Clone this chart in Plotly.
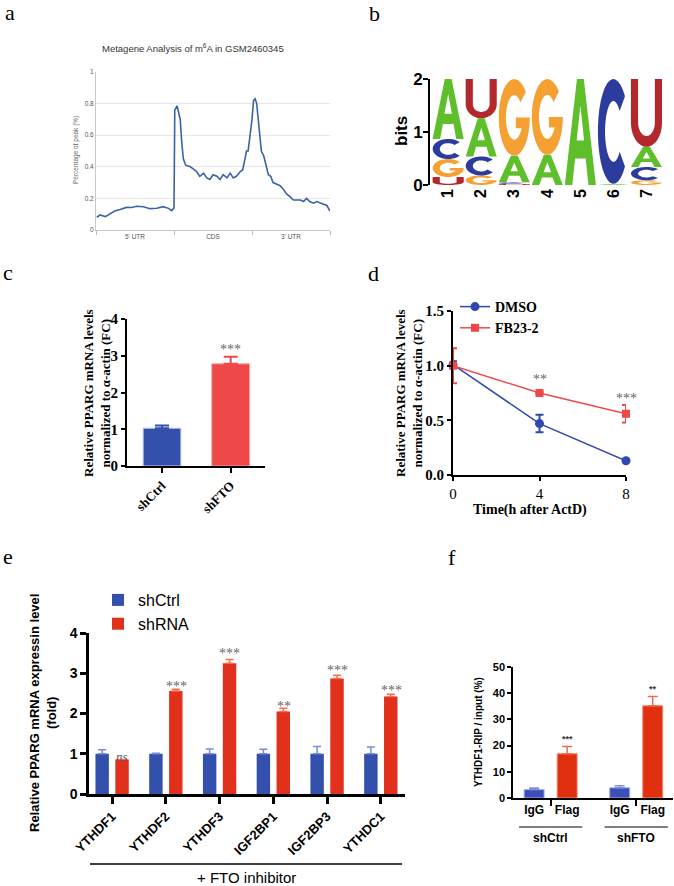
import numpy as np
import plotly.graph_objects as go

W, H = 674, 886


def px(x):
    return x / W


def py(y):
    return 1 - y / H


SERIF = "Liberation Serif"
SANS = "Liberation Sans"

# ---- a: metagene profile
meta_pos = [0.01, 0.05, 0.12, 0.18, 0.24, 0.31, 0.39, 0.46, 0.52, 0.61, 0.69, 0.78,
            0.86, 0.93, 0.97, 1.00, 1.01, 1.04, 1.08, 1.10, 1.12, 1.15, 1.21, 1.25,
            1.29, 1.33, 1.38, 1.42, 1.46, 1.50, 1.55, 1.59, 1.63, 1.68, 1.72, 1.76,
            1.80, 1.85, 1.88, 1.91, 1.93, 1.95, 1.97, 2.00, 2.02, 2.04, 2.06, 2.08,
            2.10, 2.12, 2.15, 2.19, 2.21, 2.24, 2.27, 2.32, 2.36, 2.40, 2.44, 2.49,
            2.53, 2.57, 2.62, 2.66, 2.70, 2.74, 2.79, 2.83, 2.87, 2.91, 2.96, 3.00]
meta_val = [0.08, 0.095, 0.085, 0.105, 0.12, 0.13, 0.143, 0.142, 0.15, 0.147, 0.135, 0.138,
            0.148, 0.137, 0.122, 0.14, 0.76, 0.785, 0.70, 0.55, 0.45, 0.41, 0.40, 0.385,
            0.37, 0.34, 0.36, 0.33, 0.32, 0.35, 0.34, 0.32, 0.35, 0.33, 0.36, 0.33,
            0.34, 0.37, 0.38, 0.45, 0.50, 0.50, 0.58, 0.70, 0.82, 0.83, 0.80, 0.70,
            0.60, 0.50, 0.47, 0.40, 0.35, 0.34, 0.30, 0.29, 0.28, 0.26, 0.23, 0.21,
            0.19, 0.19, 0.19, 0.18, 0.20, 0.18, 0.17, 0.18, 0.17, 0.165, 0.155, 0.12]
meta_regions = ["5' UTR", "CDS", "3' UTR"]

# ---- b: motif logo (bits per letter)
logo_positions = [1, 2, 3, 4, 5, 6, 7]
logo_A = [1.13, 0.72, 0.50, 0.57, 2.00, 0.02, 0.38]
logo_C = [0.38, 0.36, 0.03, 0.00, 0.00, 1.98, 0.25]
logo_G = [0.34, 0.18, 1.45, 1.43, 0.00, 0.00, 0.09]
logo_U = [0.15, 0.74, 0.02, 0.00, 0.00, 0.00, 1.28]

# ---- c
c_groups = ["shCtrl", "shFTO"]
c_vals = [1.03, 2.78]
c_err = [0.07, 0.19]

# ---- d
d_time = [0, 4, 8]
d_dmso = [1.01, 0.47, 0.13]
d_dmso_err = [0.03, 0.08, 0.01]
d_fb = [1.00, 0.75, 0.56]
d_fb_err = [0.16, 0.01, 0.08]
d_stars = ["", "**", "***"]
d_star_y = [0, 0.87, 0.70]

# ---- e
e_genes = ["YTHDF1", "YTHDF2", "YTHDF3", "IGF2BP1", "IGF2BP3", "YTHDC1"]
e_ctrl = [1.0, 1.0, 1.0, 1.0, 1.0, 1.0]
e_ctrl_err = [0.10, 0.01, 0.12, 0.11, 0.18, 0.17]
e_rna = [0.86, 2.56, 3.25, 2.05, 2.87, 2.42]
e_rna_err = [0.0, 0.04, 0.09, 0.08, 0.08, 0.06]
e_stars = ["ns", "***", "***", "**", "***", "***"]
e_star_y = [0.92, 2.66, 3.48, 2.17, 3.08, 2.58]

# ---- f
f_groups = ["shCtrl", "shFTO"]
f_igg = [3.2, 3.9]
f_igg_err = [0.6, 0.8]
f_flag = [16.9, 35.2]
f_flag_err = [2.8, 3.5]
f_stars = ["***", "**"]
f_star_y = [22.5, 41.5]

BLUE = "#3450ad"
RED_C = "#ee4848"
RED_E = "#e1301c"

fig = go.Figure()

# a
fig.add_trace(go.Scatter(x=meta_pos, y=meta_val, mode="lines",
                         line=dict(color="#3a63a6", width=1.6),
                         xaxis="x", yaxis="y", showlegend=False, hoverinfo="skip"))

# b: letters drawn as path shapes scaled to their bit heights


def arc(cx, cy, rx, ry, a0, a1, n=28):
    t = np.radians(np.linspace(a0, a1, n))
    return list(zip(cx + rx * np.cos(t), cy + ry * np.sin(t)))


GLYPHS = {
    "A": [[(0, 0), (0.39, 1), (0.61, 1), (1, 0), (0.76, 0), (0.67, 0.25), (0.33, 0.25), (0.24, 0)],
          [(0.38, 0.42), (0.62, 0.42), (0.5, 0.75)]],
    "C": [arc(0.5, 0.5, 0.5, 0.5, 42, 318) + arc(0.5, 0.5, 0.27, 0.29, 318, 42)],
    "G": [arc(0.5, 0.5, 0.5, 0.5, 42, 360) + [(0.55, 0.5), (0.55, 0.36)]
          + arc(0.5, 0.5, 0.27, 0.29, 331, 42)],
    "U": [[(0, 1), (0.23, 1)] + arc(0.5, 0.36, 0.27, 0.2, 180, 360) + [(0.77, 1), (1, 1)]
          + arc(0.5, 0.36, 0.5, 0.36, 360, 180)],
}
LETTER_COLORS = {"A": "#5fbf2a", "C": "#2b3c9c", "G": "#f5a033", "U": "#b3282c"}

shapes = []
for i, pos in enumerate(logo_positions):
    col = {"A": logo_A[i], "C": logo_C[i], "G": logo_G[i], "U": logo_U[i]}
    base = 0.0
    for letter, h in sorted(col.items(), key=lambda kv: kv[1]):
        if h <= 0:
            continue
        x0, x1 = pos - 0.47, pos + 0.47
        path = ""
        for sub in GLYPHS[letter]:
            pts = [(x0 + u * (x1 - x0), base + v * h) for u, v in sub]
            path += "M" + "L".join(f"{a:.4f},{b:.4f}" for a, b in pts) + "Z"
        shapes.append(dict(type="path", path=path, xref="x2", yref="y2",
                           fillcolor=LETTER_COLORS[letter], line=dict(width=0),
                           fillrule="evenodd", layer="above"))
        base += h

fig.add_trace(go.Scatter(x=logo_positions, y=[0] * 7, mode="markers", opacity=0,
                         xaxis="x2", yaxis="y2", showlegend=False, hoverinfo="skip"))

# c
for i, (g, col) in enumerate(zip(c_groups, [BLUE, RED_C])):
    fig.add_trace(go.Bar(x=[i], y=[c_vals[i]], width=0.55,
                         marker=dict(color=col, line=dict(color="#c8d0f0" if i == 0 else "#f8a0a0", width=1)),
                         error_y=dict(type="data", array=[c_err[i]], arrayminus=[0], symmetric=False,
                                      color=col, thickness=2, width=7),
                         xaxis="x3", yaxis="y3", showlegend=False, hoverinfo="skip"))

# d
fig.add_trace(go.Scatter(x=d_time, y=d_dmso, mode="lines+markers", name="DMSO",
                         line=dict(color="#3047b0", width=1.5),
                         marker=dict(symbol="circle", size=9, color="#3047b0"),
                         error_y=dict(type="data", array=d_dmso_err, color="#3047b0", thickness=2, width=4),
                         xaxis="x4", yaxis="y4", legend="legend", cliponaxis=False))
fig.add_trace(go.Scatter(x=d_time, y=d_fb, mode="lines+markers", name="FB23-2",
                         line=dict(color="#f04848", width=1.5),
                         marker=dict(symbol="square", size=8, color="#f04848"),
                         error_y=dict(type="data", array=d_fb_err, color="#f04848", thickness=2, width=4),
                         xaxis="x4", yaxis="y4", legend="legend", cliponaxis=False))

# e
e_idx = list(range(len(e_genes)))
fig.add_trace(go.Bar(x=e_idx, y=e_ctrl, width=0.25, offset=-0.31, name="shCtrl",
                     marker=dict(color=BLUE, line=dict(width=0)),
                     error_y=dict(type="data", array=e_ctrl_err, arrayminus=[0] * 6, symmetric=False,
                                  color="#7a88d8", thickness=1.5, width=4),
                     xaxis="x5", yaxis="y5", legend="legend2"))
fig.add_trace(go.Bar(x=e_idx, y=e_rna, width=0.25, offset=0.06, name="shRNA",
                     marker=dict(color=RED_E, line=dict(width=0)),
                     error_y=dict(type="data", array=e_rna_err, arrayminus=[0] * 6, symmetric=False,
                                  color="#f07050", thickness=1.5, width=4),
                     xaxis="x5", yaxis="y5", legend="legend2"))

# f
f_idx = [0, 1]
fig.add_trace(go.Bar(x=f_idx, y=f_igg, width=0.234, offset=-0.31,
                     marker=dict(color="#3c4fb8", line=dict(color="#a8b2ea", width=1)),
                     error_y=dict(type="data", array=f_igg_err, arrayminus=[0, 0], symmetric=False,
                                  color="#8090d8", thickness=1.5, width=5),
                     xaxis="x6", yaxis="y6", showlegend=False, hoverinfo="skip"))
fig.add_trace(go.Bar(x=f_idx, y=f_flag, width=0.234, offset=0.076,
                     marker=dict(color="#e0300f", line=dict(color="#f09080", width=1)),
                     error_y=dict(type="data", array=f_flag_err, arrayminus=[0, 0], symmetric=False,
                                  color="#f06a50", thickness=1.5, width=5),
                     xaxis="x6", yaxis="y6", showlegend=False, hoverinfo="skip"))

annotations = []


def note(text, x, y, size, family=SERIF, color="black", angle=0, xref="paper", yref="paper",
         weight="normal", style="normal", xanchor="center", yanchor="middle"):
    annotations.append(dict(text=text, x=x, y=y, xref=xref, yref=yref, showarrow=False,
                            textangle=angle, xanchor=xanchor, yanchor=yanchor,
                            font=dict(family=family, size=size, color=color, weight=weight, style=style)))


# panel letters
for lab, lx, ly in [("a", 10, 12), ("b", 375, 14), ("c", 8, 272), ("d", 374, 273), ("e", 8, 556), ("f", 452, 557)]:
    note(lab, px(lx), py(ly), 22)

# a texts
note("Metagene Analysis of m<sup>6</sup>A in GSM2460345", px(193), py(48), 9.5, SANS, "#333")
note("Percentage of peak (%)", px(76), py(150), 6.5, SANS, "#666", angle=-90)

# b title
note("bits", px(401), py(131), 17, SANS, angle=-90, weight="bold")

# c/d y titles
ytxt = "Relative PPARG mRNA levels<br>normalized to \u03b1-actin (FC)"
note(ytxt, px(97), py(393), 13, SERIF, angle=-90, weight="bold")
note(ytxt, px(409), py(393), 13, SERIF, angle=-90, weight="bold")
note("***", 1, c_vals[1] + c_err[1] + 0.2, 14, SERIF, "#666", xref="x3", yref="y3")
note("Time(h after ActD)", px(530), py(510), 14, SERIF, weight="bold")
for t, s, sy in zip(d_time, d_stars, d_star_y):
    if s:
        note(s, t, sy, 14, SERIF, "#666", xref="x4", yref="y4")

# e texts
note("Relative PPARG mRNA expressin level<br>(fold)", px(43), py(713), 13, SANS, angle=-90, weight="bold")
for i, s, sy in zip(e_idx, e_stars, e_star_y):
    if s == "ns":
        note(s, i + 0.19, sy, 13, SERIF, "#555", xref="x5", yref="y5", style="italic")
    else:
        note(s, i + 0.19, sy, 14, SERIF, "#666", xref="x5", yref="y5")
note("+ FTO inhibitor", px(246), py(877), 15, SANS)
shapes.append(dict(type="line", xref="paper", yref="paper", x0=px(90), x1=px(402), y0=py(864), y1=py(864),
                   line=dict(color="black", width=1.5)))

# f texts
note("YTHDF1-RIP / input (%)", px(478), py(732), 10, SANS, angle=-90, weight="bold")
for i, s, sy in zip(f_idx, f_stars, f_star_y):
    note(s, i + 0.193, sy, 9, SANS, "#333", xref="x6", yref="y6", weight="bold")
for i, g in zip(f_idx, f_groups):
    note(g, i, py(838), 12, SANS, xref="x6", weight="bold")
    shapes.append(dict(type="line", xref="x6", yref="paper", x0=i - 0.37, x1=i + 0.37, y0=py(827), y1=py(827),
                       line=dict(color="black", width=1)))

f_tickvals = [g + o for g in f_idx for o in (-0.193, 0.193)]


def ax(**kw):
    base = dict(showgrid=False, zeroline=False, automargin=False, showline=True,
                linecolor="black", tickcolor="black")
    base.update(kw)
    return base


serif_tick = dict(family=SERIF, size=15, color="black", weight="bold")

fig.update_layout(
    template="none",
    width=W, height=H,
    margin=dict(l=0, r=0, t=0, b=0, pad=0),
    paper_bgcolor="white", plot_bgcolor="rgba(0,0,0,0)",
    barmode="overlay",
    shapes=shapes,
    annotations=annotations,
    # a
    xaxis=ax(domain=[px(96), px(330)], range=[0, 3], anchor="y",
             tickvals=[0.5, 1.5, 2.5], ticktext=meta_regions, ticks="",
             tickfont=dict(family=SANS, size=6.5, color="#555"),
             linecolor="#c8c8c8", linewidth=1,
             minor=dict(tickvals=[0, 1, 2, 3], ticks="outside", ticklen=4, tickcolor="#bbbbbb")),
    yaxis=ax(domain=[py(230), py(72)], range=[0, 1], anchor="x", ticks="",
             tickvals=[0, 0.2, 0.4, 0.6, 0.8, 1], ticktext=["0", "0.2", "0.4", "0.6", "0.8", "1"],
             tickfont=dict(family=SANS, size=6.5, color="#555"),
             linecolor="#c8c8c8", linewidth=1, showgrid=True, gridcolor="#e6e6e6", gridwidth=1),
    # b
    xaxis2=ax(domain=[px(430), px(663)], range=[0.45, 7.5], anchor="y2",
              tickvals=logo_positions, ticktext=[str(p) for p in logo_positions], tickangle=-90,
              tickfont=dict(family=SANS, size=16, color="black", weight="bold"),
              showline=False, ticks=""),
    yaxis2=ax(domain=[py(185), py(79)], range=[0, 2], anchor="x2",
              tickvals=[0, 1, 2], ticks="outside", ticklen=5, tickwidth=2, ticklabelstandoff=-3,
              tickfont=dict(family=SANS, size=17, color="black", weight="bold"), linewidth=2),
    # c
    xaxis3=ax(domain=[px(127), px(265)], range=[-0.51, 1.5], anchor="y3",
              tickvals=[0, 1], ticktext=c_groups, tickangle=-45, ticks="outside", ticklen=5, tickwidth=2,
              tickfont=dict(family=SERIF, size=13, color="black", weight="bold"), linewidth=2),
    yaxis3=ax(domain=[py(466), py(319)], range=[0, 4], anchor="x3",
              tickvals=[0, 1, 2, 3, 4],
              ticks="outside", ticklen=4, tickwidth=2, tickfont=serif_tick, linewidth=2),
    # d
    xaxis4=ax(domain=[px(453), px(626)], range=[0, 8], anchor="y4",
              tickvals=d_time, ticks="outside", ticklen=4, tickwidth=2,
              tickfont=dict(family=SERIF, size=15, color="black"), linewidth=2),
    yaxis4=ax(domain=[py(475), py(311)], range=[0, 1.5], anchor="x4",
              tickvals=[0, 0.5, 1.0, 1.5], tickformat=".1f",
              ticks="outside", ticklen=4, tickwidth=2, tickfont=serif_tick, linewidth=2),
    # e
    xaxis5=ax(domain=[px(89), px(405)], range=[-0.43, 5.45], anchor="y5",
              tickvals=e_idx, ticktext=e_genes, tickangle=-45, ticks="outside", ticklen=7, tickwidth=2.5,
              tickfont=dict(family=SANS, size=13, color="black", weight="bold"), linewidth=2.5),
    yaxis5=ax(domain=[py(794), py(633)], range=[0, 4], anchor="x5",
              tickvals=[0, 1, 2, 3, 4], ticks="outside", ticklen=6, tickwidth=2.5,
              tickfont=dict(family=SANS, size=14, color="black", weight="bold"), linewidth=2.5),
    # f
    xaxis6=ax(domain=[px(513), px(673)], range=[-0.44, 1.43], anchor="y6",
              tickvals=f_tickvals, ticktext=["IgG", "Flag", "IgG", "Flag"], ticks="",
              tickfont=dict(family=SANS, size=12, color="black", weight="bold"), linewidth=1.5,
              minor=dict(tickvals=f_idx, ticks="outside", ticklen=6, tickwidth=1.5, tickcolor="black")),
    yaxis6=ax(domain=[py(798), py(667)], range=[0, 50], anchor="x6",
              tickvals=[0, 10, 20, 30, 40, 50], ticks="outside", ticklen=4, tickwidth=1.5,
              tickfont=dict(family=SANS, size=11, color="black", weight="bold"), linewidth=1.5),
    legend=dict(x=px(455), y=py(291), xanchor="left", yanchor="top", bgcolor="rgba(0,0,0,0)",
                font=dict(family=SERIF, size=14, color="black", weight="bold"), tracegroupgap=0),
    legend2=dict(x=px(98), y=py(583), xanchor="left", yanchor="top", bgcolor="rgba(0,0,0,0)",
                 font=dict(family=SANS, size=16, color="black")),
)

fig.write_html("out.html", config={"displayModeBar": False},
               post_script="document.body.style.margin = '0px';")
